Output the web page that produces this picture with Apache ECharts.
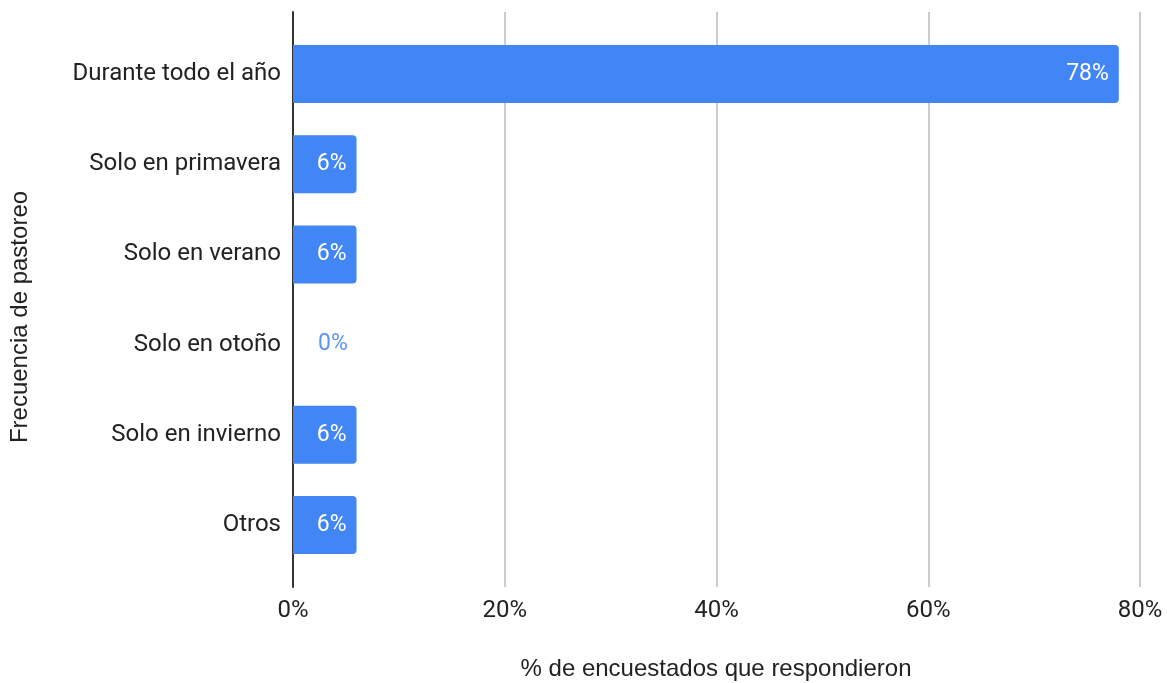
<!DOCTYPE html>
<html>
<head>
<meta charset="utf-8">
<script src="https://cdn.jsdelivr.net/npm/echarts@6/dist/echarts.min.js"></script>
<style>
  html, body { margin: 0; padding: 0; background: #fff; }
  #chart { width: 1167px; height: 683px; }
</style>
</head>
<body>
<div id="chart"></div>
<script>
// Frecuencia de pastoreo: share of respondents per grazing period
const categories = [
  'Durante todo el año',
  'Solo en primavera',
  'Solo en verano',
  'Solo en otoño',
  'Solo en invierno',
  'Otros'
];
const values = [78, 6, 6, 0, 6, 6];
const xTicks = [0, 20, 40, 60, 80];

const BAR = '#4285F4';
const FONT = 'Roboto, Arial, sans-serif';
const TITLE_FONT = '"Liberation Sans", Arial, sans-serif';

const chart = echarts.init(document.getElementById('chart'), null, { renderer: 'canvas' });

const barData = values.map(v => {
  if (v === 0) {
    return {
      value: v,
      label: { position: 'right', distance: 25, color: '#5b95f5' }
    };
  }
  return { value: v };
});

chart.setOption({
  animation: false,
  backgroundColor: '#fff',
  grid: [
    // frame: gridlines, category axis line and percent ticks
    { left: 293, right: 27, top: 12, bottom: 96 },
    // bars and category labels
    { left: 293, right: 27, top: 29, bottom: 113 }
  ],
  xAxis: [
    {
      gridIndex: 0,
      type: 'value',
      min: xTicks[0],
      max: xTicks[xTicks.length - 1],
      interval: 20,
      axisLine: { show: false },
      axisTick: { show: false },
      splitLine: { show: true, lineStyle: { color: '#cccccc', width: 2 } },
      axisLabel: {
        formatter: '{value}%',
        color: '#222',
        fontFamily: FONT,
        fontSize: 24,
        margin: 12
      }
    },
    {
      gridIndex: 1,
      type: 'value',
      min: xTicks[0],
      max: xTicks[xTicks.length - 1],
      show: false
    }
  ],
  yAxis: [
    {
      gridIndex: 0,
      type: 'category',
      data: categories,
      inverse: true,
      axisLine: { show: true, lineStyle: { color: '#333', width: 2 } },
      axisTick: { show: false },
      axisLabel: { show: false },
      splitLine: { show: false }
    },
    {
      gridIndex: 1,
      type: 'category',
      data: categories,
      inverse: true,
      axisLine: { show: false },
      axisTick: { show: false },
      axisLabel: {
        color: '#222',
        fontFamily: FONT,
        fontSize: 24,
        margin: 12
      }
    }
  ],
  series: [
    {
      type: 'bar',
      xAxisIndex: 1,
      yAxisIndex: 1,
      data: barData,
      barWidth: 58,
      itemStyle: { color: BAR, borderRadius: [0, 4, 4, 0] },
      label: {
        show: true,
        position: 'insideRight',
        distance: 10,
        formatter: '{c}%',
        color: '#fff',
        fontFamily: FONT,
        fontSize: 23
      }
    }
  ],
  graphic: [
    {
      type: 'text',
      x: 716,
      y: 669,
      style: {
        text: '% de encuestados que respondieron',
        fill: '#222',
        fontFamily: TITLE_FONT,
        fontSize: 24,
        textAlign: 'center',
        textVerticalAlign: 'middle'
      }
    },
    {
      type: 'text',
      x: 20,
      y: 317,
      rotation: Math.PI / 2,
      style: {
        text: 'Frecuencia de pastoreo',
        fill: '#222',
        fontFamily: TITLE_FONT,
        fontSize: 24,
        textAlign: 'center',
        textVerticalAlign: 'middle'
      }
    }
  ]
});
</script>
</body>
</html>
